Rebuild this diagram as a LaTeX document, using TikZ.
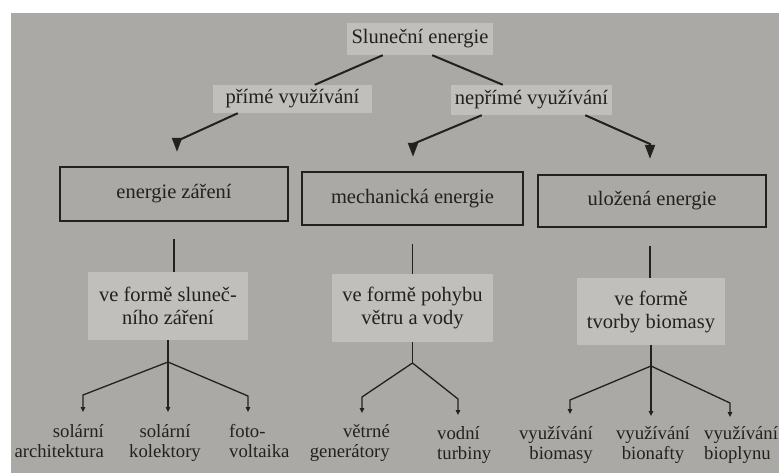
\documentclass[tikz,border=0pt]{standalone}
\usepackage{fontspec}
\setmainfont{Liberation Serif}
\usetikzlibrary{arrows.meta}
\definecolor{paper}{RGB}{171,169,165}
\definecolor{patch}{RGB}{193,191,187}
\definecolor{ink}{RGB}{34,33,32}
\begin{document}
\begin{tikzpicture}[x=1pt,y=-1pt,
  lbl/.style={fill=patch, text=ink, font=\fontsize{20.5}{23}\selectfont, inner sep=0pt, align=center},
  ebox/.style={draw=ink, line width=2.4pt, text=ink, font=\fontsize{20.5}{23}\selectfont, inner sep=0pt},
  leaf/.style={text=ink, font=\fontsize{18.7}{20}\selectfont, inner sep=0pt},
  topline/.style={draw=ink, line width=2pt},
  toparrow/.style={draw=ink, line width=2pt, -{Triangle[length=14pt,width=10pt]}},
  stem/.style={draw=ink, line width=1.2pt},
  twig/.style={draw=ink, line width=1.3pt, -{Triangle[length=5pt,width=4.5pt]}},
]
\useasboundingbox (0,0) rectangle (779,473);
\fill[white] (0,0) rectangle (779,473);
\fill[paper] (11,13) rectangle (779,473);

% top labels
\node[lbl, minimum width=146pt, minimum height=32pt] (s) at (420,39) {Sluneční energie};
\node[lbl, minimum width=159pt, minimum height=28pt] (p) at (292.5,99) {přímé využívání};
\node[lbl, minimum width=161pt, minimum height=30pt] (n) at (531.5,100) {nepřímé využívání};

% boxes
\node[ebox, minimum width=228pt, minimum height=54pt] (b1) at (174,194) {energie záření};
\node[ebox, minimum width=221pt, minimum height=53pt] (b2) at (412.5,198.5) {mechanická energie};
\node[ebox, minimum width=228pt, minimum height=52pt] (b3) at (652,201) {uložená energie};

% form labels
\node[lbl, minimum width=160pt, minimum height=68pt] (l1) at (168,306) {ve formě sluneč-\\ního záření};
\node[lbl, minimum width=161pt, minimum height=68pt] (l2) at (412.5,308) {ve formě pohybu\\větru a vody};
\node[lbl, minimum width=148pt, minimum height=67pt] (l3) at (651,311.5) {ve formě\\tvorby biomasy};

% leaves
\node[leaf, align=right, anchor=north east] (f1) at (104,424) {solární\\architektura};
\node[leaf, align=center, anchor=north] (f2) at (165,424) {solární\\kolektory};
\node[leaf, align=left, anchor=north west] (f3) at (229,424) {foto-\\voltaika};
\node[leaf, align=right, anchor=north east] (f4) at (390,424) {větrné\\generátory};
\node[leaf, align=left, anchor=north west] (f5) at (437,426) {vodní\\turbiny};
\node[leaf, align=right, anchor=north east] (f6) at (593,426) {využívání\\biomasy};
\node[leaf, align=center, anchor=north] (f7) at (653,426) {využívání\\bionafty};
\node[leaf, align=left, anchor=north west] (f8) at (704,426) {využívání\\bioplynu};

% coordinates
\coordinate (c1) at (177,141);
\coordinate (c2) at (413,144);
\coordinate (c3) at (650,144);
\coordinate (j1) at (168,362);
\coordinate (j2) at (412.5,363);
\coordinate (j3) at (651,366);
\coordinate (t1) at (83,412);
\coordinate (t2) at (168,412);
\coordinate (t3) at (248,412);
\coordinate (t4) at (362,413);
\coordinate (t5) at (458,415);
\coordinate (t6) at (570,414);
\coordinate (t7) at (651,416);
\coordinate (t8) at (730,417);

% top connectors
\draw[topline] ([xshift=36pt]s.south west) -- ([xshift=102pt]p.north west);
\draw[topline] ([xshift=-61pt]s.south east) -- ([xshift=52pt]n.north west);
\draw[toparrow, shorten >=14pt] ([xshift=25pt]p.south west) -- (c1) -- (c1 |- b1.north);
\draw[toparrow, shorten >=14pt] ([xshift=31pt]n.south west) -- (c2) -- (c2 |- b2.north);
\draw[toparrow, shorten >=15pt] ([xshift=-27pt]n.south east) -- (c3) -- (c3 |- b3.north);

% box to label
\draw[stem, shorten <=17pt] (b1.south) -- (b1.south |- l1.north);
\draw[stem, shorten <=18pt] (b2.south) -- (b2.south |- l2.north);
\draw[stem, shorten <=18pt] ([xshift=-2pt]b3.south) -- ([xshift=-2pt]b3.south |- l3.north);

% label to junction
\draw[stem] (l1.south) -- (j1);
\draw[stem] (l2.south) -- (j2);
\draw[stem] (l3.south) -- (j3);

% twigs
\draw[twig] (j1) -- (83,395) -- (t1);
\draw[twig] (j1) -- (t2);
\draw[twig] (j1) -- (248,396) -- (t3);
\draw[twig] (j2) -- (362,397) -- (t4);
\draw[twig] (j2) -- (458,399) -- (t5);
\draw[twig] (j3) -- (570,400) -- (t6);
\draw[twig] (j3) -- (t7);
\draw[twig] (j3) -- (730,403) -- (t8);
\end{tikzpicture}
\end{document}
